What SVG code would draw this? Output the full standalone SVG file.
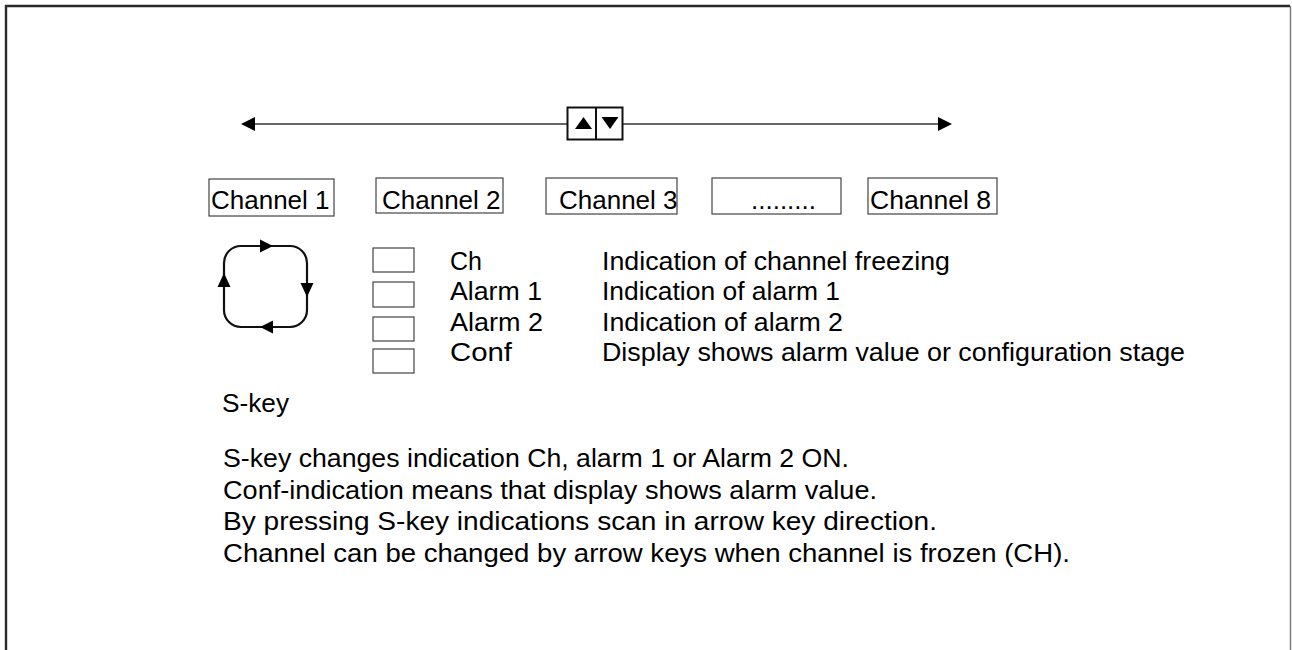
<svg xmlns="http://www.w3.org/2000/svg" width="1292" height="650" viewBox="0 0 1292 650">
  <style>
    text { font-family: "Liberation Sans", Arial, sans-serif; font-size: 25px; fill: #000; }
    text.ch { font-size: 26px; }
    .box { fill: #fff; stroke: #444; stroke-width: 1.2; }
    .ind { fill: #fff; stroke: #444; stroke-width: 1.2; }
    .line { fill: none; stroke: #333; stroke-width: 1.6; }
    .loop { fill: none; stroke: #111; stroke-width: 2.2; }
    .head { fill: #000; stroke: none; }
  </style>
  <rect x="0" y="0" width="1292" height="650" fill="#fff"/>
  <!-- frame -->
  <path d="M6,650 V6 H1290" fill="none" stroke="#2a2a2a" stroke-width="2.4"/>
  <path d="M1290.5,6 V650" fill="none" stroke="#777" stroke-width="1.4"/>

  <!-- channel scroll direction -->
  <g id="connectors">
    <line class="line" x1="252" y1="124" x2="567" y2="124"/>
    <line class="line" x1="623" y1="124" x2="942" y2="124"/>
    <polygon class="head" points="241,124 255,117 255,131"/>
    <polygon class="head" points="952,124 938,117 938,131"/>
  </g>

  <!-- arrow keys -->
  <g id="arrow-keys">
    <rect x="567.5" y="107.5" width="55" height="32" fill="#fff" stroke="#111" stroke-width="2"/>
    <line x1="596" y1="107.5" x2="596" y2="139.5" stroke="#111" stroke-width="2"/>
    <polygon class="head" points="583.5,117 575,129 592,129"/>
    <polygon class="head" points="610,129 601.5,117 618.5,117"/>
  </g>

  <!-- channels -->
  <g id="channel-1">
    <rect class="box" x="209" y="179" width="125" height="37"/>
    <text class="ch" x="211" y="209">Channel 1</text>
  </g>
  <g id="channel-2">
    <rect class="box" x="376" y="178" width="127" height="35"/>
    <text class="ch" x="382" y="209">Channel 2</text>
  </g>
  <g id="channel-3">
    <rect class="box" x="546" y="178" width="131" height="36"/>
    <text class="ch" x="559" y="209">Channel 3</text>
  </g>
  <g id="channel-dots">
    <rect class="box" x="712" y="178" width="129" height="36"/>
    <text class="ch" x="751" y="209">.........</text>
  </g>
  <g id="channel-8">
    <rect class="box" x="868" y="178" width="129" height="36"/>
    <text class="ch" x="870" y="209" textLength="121" lengthAdjust="spacingAndGlyphs">Channel 8</text>
  </g>

  <!-- S-key cycle -->
  <g id="s-key-cycle">
    <rect class="loop" x="224" y="246" width="83" height="81" rx="17"/>
    <polygon class="head" points="273,246 260,239.5 260,252.5"/>
    <polygon class="head" points="307,297 300.5,283 313.5,283"/>
    <polygon class="head" points="260,327 273,320.5 273,333.5"/>
    <polygon class="head" points="224,273 217.5,287 230.5,287"/>
  </g>

  <!-- indications -->
  <g id="ind-ch">
    <rect class="ind" x="373" y="248" width="41" height="24"/>
    <text x="450" y="270" textLength="32" lengthAdjust="spacingAndGlyphs">Ch</text>
    <text x="602" y="270" textLength="348" lengthAdjust="spacingAndGlyphs">Indication of channel freezing</text>
  </g>
  <g id="ind-alarm1">
    <rect class="ind" x="373" y="282" width="41" height="25"/>
    <text x="450" y="300" textLength="92" lengthAdjust="spacingAndGlyphs">Alarm 1</text>
    <text x="602" y="300" textLength="238" lengthAdjust="spacingAndGlyphs">Indication of alarm 1</text>
  </g>
  <g id="ind-alarm2">
    <rect class="ind" x="373" y="317" width="41" height="24"/>
    <text x="450" y="331" textLength="93" lengthAdjust="spacingAndGlyphs">Alarm 2</text>
    <text x="602" y="331" textLength="241" lengthAdjust="spacingAndGlyphs">Indication of alarm 2</text>
  </g>
  <g id="ind-conf">
    <rect class="ind" x="373" y="349" width="41" height="24"/>
    <text x="450" y="361" textLength="62" lengthAdjust="spacingAndGlyphs">Conf</text>
    <text x="602" y="361" textLength="583" lengthAdjust="spacingAndGlyphs">Display shows alarm value or configuration stage</text>
  </g>

  <g id="s-key-label">
    <text x="222" y="412" textLength="67" lengthAdjust="spacingAndGlyphs">S-key</text>
  </g>

  <g id="notes">
    <text x="223" y="467" textLength="626" lengthAdjust="spacingAndGlyphs">S-key changes indication Ch, alarm 1 or Alarm 2 ON.</text>
    <text x="223" y="499" textLength="654" lengthAdjust="spacingAndGlyphs">Conf-indication means that display shows alarm value.</text>
    <text x="223" y="530" textLength="714" lengthAdjust="spacingAndGlyphs">By pressing S-key indications scan in arrow key direction.</text>
    <text x="223" y="562" textLength="847" lengthAdjust="spacingAndGlyphs">Channel can be changed by arrow keys when channel is frozen (CH).</text>
  </g>
</svg>
